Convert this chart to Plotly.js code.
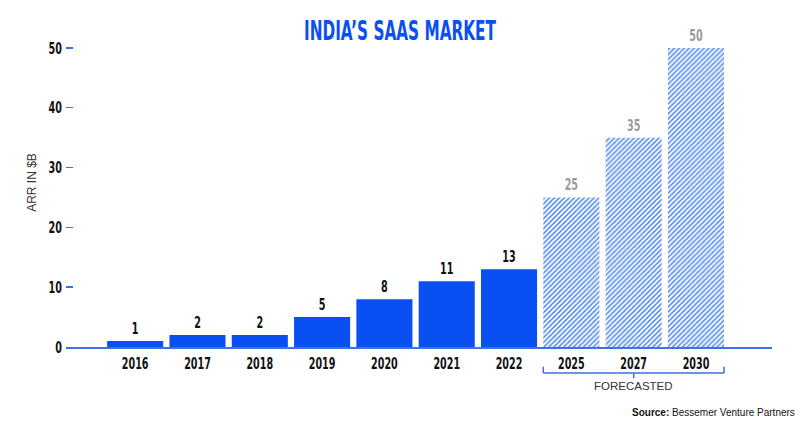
<!DOCTYPE html>
<html><head><meta charset="utf-8">
<script src="https://cdn.plot.ly/plotly-3.0.1.min.js"></script>
<style>html,body{margin:0;padding:0;background:#fff}#chart{width:800px;height:423px}</style>
</head><body><div id="chart"></div>
<script>
const years = ['2016','2017','2018','2019','2020','2021','2022','2025','2027','2030'];
const arr = [1, 2, 2, 5, 8, 11, 13, 25, 35, 50];
const forecasted = [false,false,false,false,false,false,false,true,true,true];
const yTicks = [0, 10, 20, 30, 40, 50];

const BLUE = '#0a4ff2';
const COND = '"DejaVu Sans", sans-serif';

const actX = years.filter((_, i) => !forecasted[i]);
const actY = arr.filter((_, i) => !forecasted[i]);
const fcX = years.filter((_, i) => forecasted[i]);
const fcY = arr.filter((_, i) => forecasted[i]);

const common = {
  type: 'bar', width: 0.9, textposition: 'outside', cliponaxis: false, hoverinfo: 'skip'
};

const actual = Object.assign({}, common, {
  x: actX, y: actY, text: actY.map(String),
  textfont: {family: COND, size: 16, weight: 'bold', color: '#111111'},
  marker: {color: BLUE, line: {width: 0}}
});

const forecast = Object.assign({}, common, {
  x: fcX, y: fcY, text: fcY.map(String),
  textfont: {family: COND, size: 16, weight: 'bold', color: '#9a9a9a'},
  marker: {
    color: '#ffffff', line: {width: 0},
    pattern: {shape: '/', fgcolor: '#4f88ef', bgcolor: '#ffffff', fgopacity: 1,
              size: 3.5, solidity: 0.45, fillmode: 'replace'}
  }
});

const fIdx = forecasted.map((f,i)=>f?i:-1).filter(i=>i>=0);
const x0 = fIdx[0] - 0.45, x1 = fIdx[fIdx.length-1] + 0.45, xm = (x0 + x1) / 2;
const bc = '#3d6fe3';

const layout = {
  width: 800, height: 423,
  margin: {l: 66, r: 28, t: 18, b: 76},
  paper_bgcolor: '#fff', plot_bgcolor: '#fff',
  showlegend: false,
  barmode: 'overlay',
  title: {text: 'INDIA\u2019S SAAS MARKET', x: 0.5, xref: 'container', y: 0.926, yref: 'container',
          xanchor: 'center', yanchor: 'middle',
          font: {family: COND, size: 26, weight: 'bold', color: BLUE}},
  xaxis: {
    type: 'category', categoryorder: 'array', categoryarray: years, range: [-1.11, 10.22],
    showline: true, linecolor: '#3d73e8', linewidth: 2,
    ticks: '', showgrid: false, zeroline: false,
    tickfont: {family: COND, size: 16, weight: 'bold', color: '#111'},
    ticklabelstandoff: 1
  },
  yaxis: {
    range: [0, 55], tickvals: yTicks,
    showline: false, showgrid: false, zeroline: false,
    ticks: 'inside', ticklen: 7, tickwidth: 1.5, tickcolor: '#3d73e8',
    tickfont: {family: COND, size: 16, weight: 'bold', color: '#111'},
    ticklabelstandoff: 3,
    title: {text: 'ARR IN $B', standoff: 0,
            font: {family: '"Liberation Sans", Arial, sans-serif', size: 12, color: '#333'}}
  },
  shapes: [
    {type:'line', xref:'x', yref:'paper', x0:x0, x1:x1, y0:-0.079, y1:-0.079, line:{color:bc, width:1.5}},
    {type:'line', xref:'x', yref:'paper', x0:x0, x1:x0, y0:-0.079, y1:-0.06, line:{color:bc, width:1.5}},
    {type:'line', xref:'x', yref:'paper', x0:x1, x1:x1, y0:-0.079, y1:-0.06, line:{color:bc, width:1.5}},
    {type:'line', xref:'x', yref:'paper', x0:xm, x1:xm, y0:-0.079, y1:-0.095, line:{color:bc, width:1.5}}
  ],
  annotations: [
    {text: 'FORECASTED', xref:'x', yref:'paper', x: xm, y: -0.118, showarrow:false,
     yanchor:'middle', font:{family:'"Liberation Sans", Arial, sans-serif', size:11.5, color:'#333'}},
    {text: '<b>Source:</b> Bessemer Venture Partners', xref:'paper', yref:'paper', x: 1.036, y: -0.2,
     xanchor:'right', yanchor:'middle', showarrow:false,
     font:{family:'"Liberation Sans", Arial, sans-serif', size:10, color:'#111'}}
  ]
};

function condense(gd) {
  gd.querySelectorAll('text').forEach(t => {
    const ff = t.style.fontFamily || '';
    if (ff.indexOf('DejaVu') < 0) return;
    const isTitle = t.classList.contains('gtitle');
    const w = t.getComputedTextLength();
    if (w <= 0) return;
    const target = isTitle ? 192 : w * 0.6;
    t.setAttribute('textLength', target.toFixed(1));
    t.setAttribute('lengthAdjust', 'spacingAndGlyphs');
  });
}

Plotly.newPlot('chart', [actual, forecast], layout, {displayModeBar: false, staticPlot: true}).then(condense);
</script>
</body></html>
